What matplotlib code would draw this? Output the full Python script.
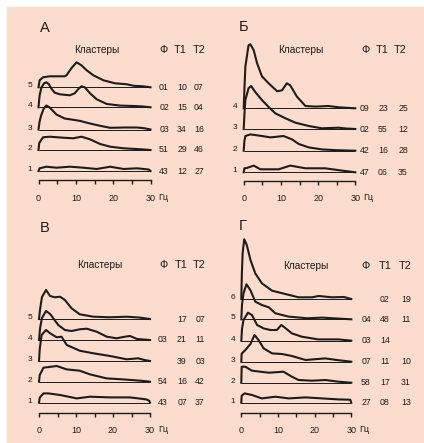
import numpy as np
import matplotlib
matplotlib.use("Agg")
import matplotlib.pyplot as plt
from matplotlib.patches import Rectangle

plt.rcParams['font.family'] = ['Liberation Sans', 'DejaVu Sans']

W, H = 424, 443
PEACH = '#fcdccc'
INK = '#1c1c1c'

# ---- data: spectra heights (relative units) per cluster, freq in Hz ----
# panel А
A_FREQ = {
    5: [0, 0.3, 1.2, 3, 7, 7.5, 8.8, 10.2, 11.5, 12.9, 14.7, 17.4, 20.5, 23.7, 25.5, 28, 30],
    4: [0, 0.3, 0.8, 1.5, 2.1, 2.8, 3.4, 4.3, 5.7, 8.4, 9.7, 10.6, 11.5, 12.4, 13.8, 15.6, 18.3, 21.9, 25.5, 28, 30],
    3: [0, 0.3, 0.7, 1.4, 2.1, 3, 4.8, 7, 8.8, 11, 13.8, 16.5, 19.2, 22.8, 26.4, 28.3, 30],
    2: [0, 0.2, 1.2, 3, 6.6, 9.3, 11.5, 13.8, 16.5, 19.2, 22.8, 27.4, 30],
    1: [0, 0.3, 2.1, 4.8, 8.4, 12, 15.6, 19.2, 22.8, 26.4, 29.5, 30],
}
A_POWER = {
    5: [0, 7, 10, 11, 11, 12, 19, 25, 22, 17, 12, 7, 4, 3, 1.5, 1, 0],
    4: [0, 12, 20, 24, 25, 23, 19, 14.7, 13, 12, 14, 18, 21, 20, 14, 8, 3.3, 1.7, 1.3, 0.8, 0],
    3: [0, 8, 14, 21, 24, 22, 15, 11, 10, 8.7, 6, 3.7, 1.7, 2, 2, 1.3, 0],
    2: [0, 7, 12.7, 13.3, 12.3, 11.7, 13.3, 10.7, 6, 3.3, 1.7, 0.7, 0],
    1: [0, 2.7, 4.3, 3.3, 4.3, 3.3, 2, 4.3, 2, 2.7, 1.5, 0],
}
A_PHI = ['43', '51', '03', '02', '01']
A_T1 = ['12', '29', '34', '15', '10']
A_T2 = ['27', '46', '16', '04', '07']

# panel Б
B_FREQ = {
    4: [0, 0.2, 0.45, 1.3, 1.8, 2.7, 3.6, 4.9, 6.7, 9, 10.3, 11.6, 12.5, 14.3, 16.6, 19.3, 22.8, 25.5, 30],
    3: [0, 0.2, 0.45, 1.3, 2, 3.1, 4.9, 6.7, 8.5, 11.2, 13.9, 17.5, 21, 25.5, 27.5, 30],
    2: [0, 0.2, 0.45, 1.8, 4.9, 7.2, 10.7, 13, 14.8, 17.5, 21, 25, 30],
    1: [0, 0.2, 1, 2.7, 4.5, 9.4, 12.5, 16.6, 21.9, 26.4, 30],
}
B_POWER = {
    4: [0, 20, 41.7, 63, 64, 58, 45, 32, 25, 17, 18, 25, 23, 11.7, 2.3, 1.7, 2.3, 1, 0],
    3: [0, 15, 29, 40.7, 43, 37, 29, 22, 15.7, 10.7, 6.3, 3, 0.7, 1.3, 0.5, 0],
    2: [0, 10, 14.7, 16.3, 14.7, 13.3, 14.7, 11.3, 6.7, 3.3, 1.3, 0.5, 0],
    1: [0, 4, 4.5, 6.7, 3, 3, 6.7, 4, 4, 1.7, 0],
}
B_PHI = ['47', '42', '02', '09']
B_T1 = ['06', '16', '55', '23']
B_T2 = ['35', '28', '12', '25']

# panel В
V_FREQ = {
    5: [0, 0.3, 0.8, 1.9, 3, 4.3, 5.7, 7, 8.8, 11, 14.7, 19.2, 23.7, 27, 30],
    4: [0, 0.3, 0.8, 1.9, 3, 5.2, 7, 8.8, 11, 12.9, 15.6, 18.3, 21, 23.2, 24.6, 26.5, 30],
    3: [0, 0.2, 0.7, 1.9, 3, 4.8, 6.1, 7.5, 11, 14.7, 19.2, 23.7, 26.8, 28.5, 30],
    2: [0, 0.2, 1.2, 4.8, 7.5, 11, 13.8, 18.3, 22.8, 27.5, 30],
    1: [0, 0.2, 1.2, 2.5, 5.7, 10.2, 13.8, 19.2, 24.6, 29, 29.8, 30],
}
V_POWER = {
    5: [0, 10, 22, 29, 23, 21.7, 22.3, 19, 10.7, 4.7, 2.3, 1.7, 2.3, 1.5, 0],
    4: [0, 12, 22, 29, 26, 15, 10, 9, 10.7, 11.3, 8.3, 3.3, 1.7, 3.3, 4, 1, 0],
    3: [0, 12, 26, 31, 27.7, 23.7, 24.3, 16, 10.3, 7.7, 5, 1.7, 2.7, 1, 0],
    2: [0, 6.7, 14, 15.7, 12.3, 11, 7.3, 3.3, 2.3, 1, 0],
    1: [0, 5, 9.3, 9.3, 7.7, 4.3, 6, 5.3, 5.3, 3.3, 2, 0],
}
V_PHI = ['43', '54', '', '03', '']
V_T1 = ['07', '16', '39', '21', '17']
V_T2 = ['37', '42', '03', '11', '07']

# panel Г
G_FREQ = {
    6: [0, 0.15, 0.36, 0.8, 1.5, 2.5, 3.8, 5.6, 8.4, 12, 15.6, 19.3, 21.1, 24.7, 28, 30],
    5: [0, 0.2, 0.6, 1.4, 2.5, 3.8, 5.6, 7.5, 9.3, 12.9, 18, 22, 26.5, 30],
    4: [0, 0.2, 0.6, 1.8, 2.9, 4.3, 6.1, 7.9, 9.7, 10.9, 11.8, 13.8, 16.5, 21, 26.5, 30],
    3: [0, 0.1, 1.1, 2.5, 3.6, 4.7, 6.1, 8.4, 11.1, 13.8, 17.5, 22.9, 26.5, 30],
    2: [0, 0.1, 1.1, 2.9, 7.5, 11.5, 13.8, 15.6, 19.3, 22.9, 26.5, 30],
    1: [0, 0.1, 0.9, 2.9, 5.6, 9.3, 12.9, 17.5, 22, 26.5, 29.7, 30],
}
G_POWER = {
    6: [0, 25, 45.7, 59.7, 54, 39, 25.7, 15.7, 8.3, 5, 1.7, 1.7, 3, 1.7, 2, 0],
    5: [0, 15, 26, 35, 29, 17.7, 14.3, 12, 6, 2.7, 1, 1.7, 0.7, 0],
    4: [0, 12, 20.7, 28, 25.7, 15.7, 12.3, 10.7, 10.7, 15.7, 13.3, 7.3, 4, 1.3, 1.3, 0],
    3: [0, 8, 11.7, 17.7, 26.7, 21.7, 13.3, 8.3, 7.7, 5.7, 1.7, 3.3, 1.5, 0],
    2: [0, 16, 16, 12, 10, 11, 6, 2.7, 2, 2.7, 1, 0],
    1: [0, 7, 9.3, 7.7, 4.3, 6, 4.3, 5.3, 4.3, 3.3, 3, 0],
}
G_PHI = ['27', '58', '07', '03', '04', '']
G_T1 = ['08', '17', '11', '14', '48', '02']
G_T2 = ['13', '31', '10', '', '11', '19']

TICKS = [0, 5, 10, 15, 20, 25, 30]
TICK_LABELS = ['0', '', '10', '', '20', '', '30']

# ---- layout (image pixels) ----
panels = [
    # title, title_xy, header_y, header_x, cols_x, x0, x30, baselines, label_x, axis_y, freq, power, phi, t1, t2
    dict(title='А', txy=(45, 28), hy=50, kx=97, hx=(164, 180, 199), cx=(164, 182, 199),
         x0=38.5, x30=150.5, base=[171, 150, 129.5, 107.3, 87.3], lx=30, ay=180.5,
         freq=A_FREQ, power=A_POWER, phi=A_PHI, t1=A_T1, t2=A_T2),
    dict(title='Б', txy=(244, 27), hy=50, kx=301, hx=(365, 382, 400), cx=(365, 383, 403),
         x0=243.7, x30=355.3, base=[172.3, 150.7, 129, 108.3], lx=235, ay=181,
         freq=B_FREQ, power=B_POWER, phi=B_PHI, t1=B_T1, t2=B_T2),
    dict(title='В', txy=(45, 228), hy=265, kx=100, hx=(163, 181, 199), cx=(163, 182, 200),
         x0=39, x30=150, base=[402.7, 381.7, 361, 340, 319], lx=30, ay=413,
         freq=V_FREQ, power=V_POWER, phi=V_PHI, t1=V_T1, t2=V_T2),
    dict(title='Г', txy=(243, 226), hy=266, kx=306, hx=(366, 385, 405), cx=(366, 385, 406),
         x0=241.3, x30=351.3, base=[402.7, 382.7, 361.7, 340.7, 319.3, 299], lx=233, ay=412.7,
         freq=G_FREQ, power=G_POWER, phi=G_PHI, t1=G_T1, t2=G_T2),
]

fig = plt.figure(figsize=(W / 100, H / 100), dpi=100)
canvas = fig.add_axes([0, 0, 1, 1])
canvas.set_xlim(0, W)
canvas.set_ylim(H, 0)
canvas.axis('off')
canvas.add_patch(Rectangle((7, 7), W - 7, H - 7, color=PEACH, zorder=0))

for p in panels:
    ax = fig.add_axes([p['x0'] / W, 0, (p['x30'] - p['x0']) / W, 1])
    ax.set_xlim(0, 30)
    ax.set_ylim(H, 0)
    ax.axis('off')
    ax.patch.set_alpha(0)

    for k, base in enumerate(p['base']):
        cl = k + 1
        ax.hlines(base, 0, 30, lw=0.7, color=INK)
        y = base - np.array(p['power'][cl])
        ax.plot(p['freq'][cl], y, lw=1.5, color=INK, solid_joinstyle='round', clip_on=False)
        canvas.text(p['lx'], base - 1.5, str(cl), fontsize=6, ha='center', va='center', color=INK)
        for x, val in zip(p['cx'], (p['phi'][k], p['t1'][k], p['t2'][k])):
            canvas.text(x, base, val, fontsize=6.3, ha='center', va='center', color=INK)

    # frequency scale
    sax = fig.add_axes([p['x0'] / W, 1 - (p['ay'] + 5.5) / H, (p['x30'] - p['x0']) / W, 5.5 / H])
    sax.set_xlim(0, 30)
    sax.patch.set_alpha(0)
    sax.set_yticks([])
    for s in ['bottom', 'left', 'right']:
        sax.spines[s].set_visible(False)
    sax.spines['top'].set_linewidth(1.0)
    sax.spines['top'].set_color(INK)
    sax.set_xticks(TICKS, TICK_LABELS)
    sax.set_xticks([0, 30], minor=True)
    sax.tick_params(axis='x', which='both', top=True, bottom=False, labeltop=False,
                    labelbottom=True, direction='in', color=INK, width=1.0)
    sax.tick_params(axis='x', which='major', length=2.6, pad=5.5, labelsize=6.5, labelcolor=INK)
    sax.tick_params(axis='x', which='minor', length=4.0)
    canvas.text(p['x30'] + 13, p['ay'] + 16.5, 'Гц', fontsize=6.5, ha='center', va='center', color=INK)

    # titles and headers
    canvas.text(p['txy'][0], p['txy'][1], p['title'], fontsize=10.5, ha='center', va='center', color=INK)
    canvas.text(p['kx'], p['hy'], 'Кластеры', fontsize=7.3, ha='center', va='center', color=INK)
    for x, lab in zip(p['hx'], ('Ф', 'Т1', 'Т2')):
        canvas.text(x, p['hy'], lab, fontsize=7.8, ha='center', va='center', color=INK)

fig.savefig('out.png', dpi=100)
